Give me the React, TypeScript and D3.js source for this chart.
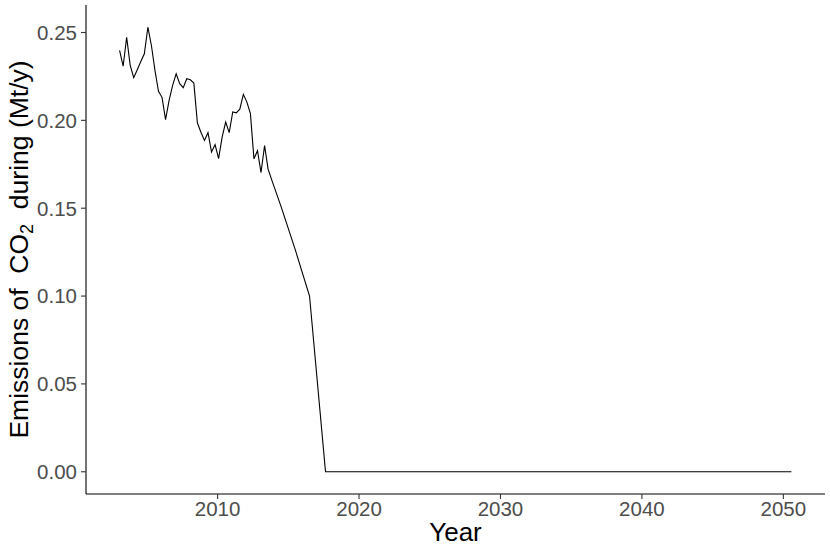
import React from "react";
import * as d3 from "d3";

// Decimal years of observations
const years: number[] = [
  2003.07, 2003.32, 2003.57, 2003.82, 2004.07, 2004.32, 2004.57, 2004.82,
  2005.07, 2005.32, 2005.57, 2005.82, 2006.07, 2006.32, 2006.57, 2006.82,
  2007.07, 2007.32, 2007.57, 2007.82, 2008.07, 2008.32, 2008.57, 2008.82,
  2009.07, 2009.32, 2009.57, 2009.82, 2010.07, 2010.32, 2010.57, 2010.82,
  2011.07, 2011.32, 2011.57, 2011.82, 2012.07, 2012.32, 2012.57, 2012.82,
  2013.07, 2013.32, 2013.57, 2013.82, 2014.5, 2015.5, 2016.5, 2017.63, 2050.57,
];
// Emissions of CO2 (Mt/y)
const emissions: number[] = [
  0.2398, 0.2308, 0.2473, 0.2313, 0.2243, 0.2288, 0.2335, 0.2379,
  0.2530, 0.2426, 0.2284, 0.2165, 0.2131, 0.2004, 0.2114, 0.2199,
  0.2265, 0.2209, 0.2186, 0.2237, 0.2231, 0.2212, 0.1986, 0.1932,
  0.1886, 0.1930, 0.1820, 0.1862, 0.1782, 0.1905, 0.1990, 0.1930,
  0.2048, 0.2043, 0.2064, 0.2148, 0.2104, 0.2038, 0.1781, 0.1827,
  0.1703, 0.1856, 0.1722, 0.1663, 0.1506, 0.1261, 0.1000, 0.0, 0.0,
];
const xTicks: number[] = [2010, 2020, 2030, 2040, 2050];
const yTicks: number[] = [0, 0.05, 0.1, 0.15, 0.2, 0.25];

const W = 830;
const H = 553;
const left = 86;
const right = 825;
const top = 5;
const bottom = 494;

export default function App() {
  const [xmin, xmax] = d3.extent(years) as [number, number];
  const xpad = (xmax - xmin) * 0.05;
  const ymax = d3.max(emissions) as number;
  const ypad = ymax * 0.05;
  const x = d3.scaleLinear().domain([xmin - xpad, xmax + xpad]).range([left, right]);
  const y = d3.scaleLinear().domain([0 - ypad, ymax + ypad]).range([bottom, top]);
  const data = years.map((yr, i) => [yr, emissions[i]] as [number, number]);
  const line = d3
    .line<[number, number]>()
    .x((d) => x(d[0]))
    .y((d) => y(d[1]));
  const font = "'Liberation Sans', Arial, Helvetica, sans-serif";
  return (
    <svg
      width={W}
      height={H}
      style={{ position: "absolute", left: 0, top: 0, background: "#fff" }}
      fontFamily={font}
    >
      <path d={line(data) || ""} fill="none" stroke="#000" strokeWidth={1.1} />
      {/* axes */}
      <line x1={left} x2={left} y1={top} y2={bottom} stroke="#000" strokeWidth={1.1} />
      <line x1={left} x2={right} y1={bottom} y2={bottom} stroke="#000" strokeWidth={1.1} />
      {yTicks.map((t) => (
        <g key={"y" + t}>
          <line x1={left - 5} x2={left} y1={y(t)} y2={y(t)} stroke="#333" strokeWidth={1.1} />
          <text
            x={left - 9}
            y={y(t)}
            dy="0.36em"
            textAnchor="end"
            fontSize={20.5}
            fill="#4d4d4d"
          >
            {d3.format(".2f")(t)}
          </text>
        </g>
      ))}
      {xTicks.map((t) => (
        <g key={"x" + t}>
          <line x1={x(t)} x2={x(t)} y1={bottom} y2={bottom + 5} stroke="#333" strokeWidth={1.1} />
          <text x={x(t)} y={bottom + 22} textAnchor="middle" fontSize={20.5} fill="#4d4d4d">
            {t}
          </text>
        </g>
      ))}
      <text x={(left + right) / 2} y={541} textAnchor="middle" fontSize={26} fill="#000">
        Year
      </text>
      <text
        transform={`translate(28,${(top + bottom) / 2}) rotate(-90)`}
        textAnchor="middle"
        fontSize={26.5}
        fill="#000"
        style={{ whiteSpace: "pre" }}
      >
        <tspan>{"Emissions of  CO"}</tspan>
        <tspan fontSize={18} dy={5}>2</tspan>
        <tspan dy={-5}>{"  during (Mt/y)"}</tspan>
      </text>
    </svg>
  );
}
